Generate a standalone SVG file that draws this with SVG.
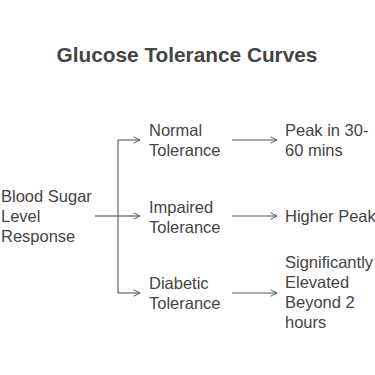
<svg xmlns="http://www.w3.org/2000/svg" width="375" height="375" viewBox="0 0 375 375">
<defs>
<marker id="arr" viewBox="0 0 10 10" refX="9" refY="5" markerWidth="8" markerHeight="8" markerUnits="userSpaceOnUse" orient="auto">
<path d="M1,1 L9,5 L1,9" fill="none" stroke="#555" stroke-width="1.2"/>
</marker>
<style>
.t{font-family:"Liberation Sans",Arial,sans-serif;font-size:16.5px;fill:#444}
.title{font-family:"Liberation Sans",Arial,sans-serif;font-size:20.8px;font-weight:bold;fill:#444}
.c{fill:none;stroke:#555;stroke-width:1.1}
</style>
</defs>
<rect width="375" height="375" fill="#fff"/>
<text class="title" x="187" y="62" text-anchor="middle">Glucose Tolerance Curves</text>
<g id="connectors">
<path class="c" d="M95,216 H118"/>
<path class="c" d="M118,140 V293"/>
<path class="c" d="M118,140 H140" marker-end="url(#arr)"/>
<path class="c" d="M118,216 H140" marker-end="url(#arr)"/>
<path class="c" d="M118,293 H140" marker-end="url(#arr)"/>
<path class="c" d="M232,140 H277" marker-end="url(#arr)"/>
<path class="c" d="M232,216 H277" marker-end="url(#arr)"/>
<path class="c" d="M232,293 H277" marker-end="url(#arr)"/>
</g>
<g id="root"><text class="t" x="1" y="202">Blood Sugar<tspan x="1" y="222">Level</tspan><tspan x="1" y="242">Response</tspan></text></g>
<g id="normal"><text class="t" x="149" y="136">Normal<tspan x="149" y="156">Tolerance</tspan></text></g>
<g id="impaired"><text class="t" x="149" y="213">Impaired<tspan x="149" y="233">Tolerance</tspan></text></g>
<g id="diabetic"><text class="t" x="149" y="289">Diabetic<tspan x="149" y="309">Tolerance</tspan></text></g>
<g id="peak"><text class="t" x="285" y="136">Peak in 30-<tspan x="285" y="156">60 mins</tspan></text></g>
<g id="higher"><text class="t" x="285" y="222">Higher Peak</text></g>
<g id="elevated"><text class="t" x="285" y="268">Significantly<tspan x="285" y="288">Elevated</tspan><tspan x="285" y="308">Beyond 2</tspan><tspan x="285" y="328">hours</tspan></text></g>
</svg>
